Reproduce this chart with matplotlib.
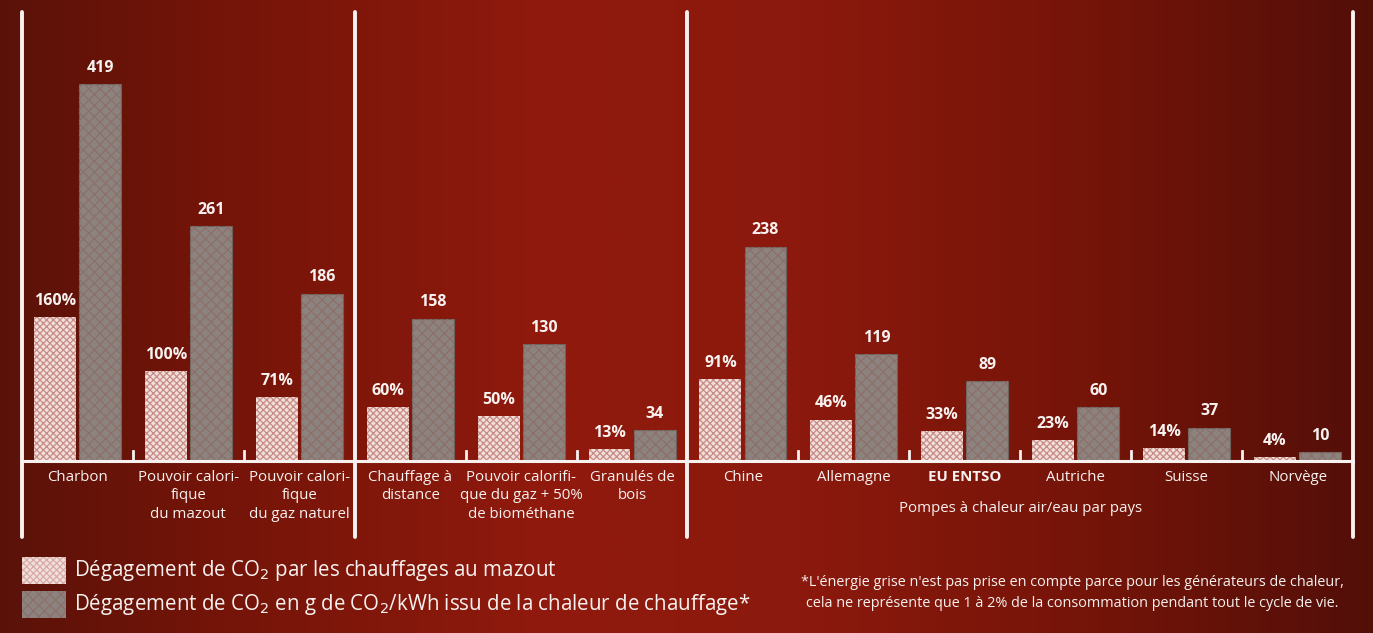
import numpy as np
import matplotlib
matplotlib.use("Agg")
import matplotlib.pyplot as plt
from matplotlib.patches import Rectangle

# ---------------- data ----------------
categories = ["Charbon",
              "Pouvoir calori-\nfique\ndu mazout",
              "Pouvoir calori-\nfique\ndu gaz naturel",
              "Chauffage à\ndistance",
              "Pouvoir calorifi-\nque du gaz + 50%\nde biométhane",
              "Granulés de\nbois",
              "Chine", "Allemagne", "EU ENTSO", "Autriche", "Suisse", "Norvège"]
share_pct = [160, 100, 71, 60, 50, 13, 91, 46, 33, 23, 14, 4]
co2_g_kwh = [419, 261, 186, 158, 130, 34, 238, 119, 89, 60, 37, 10]
group_bounds = [-0.5, 2.5, 5.5, 11.5]
group3_title = "Pompes à chaleur air/eau par pays"
legend_labels = ["Dégagement de CO$_2$ par les chauffages au mazout",
                 "Dégagement de CO$_2$ en g de CO$_2$/kWh issu de la chaleur de chauffage*"]
footnote = ("*L'énergie grise n'est pas prise en compte parce pour les générateurs de chaleur,\n"
            "cela ne représente que 1 à 2% de la consommation pendant tout le cycle de vie.")

plt.rcParams['font.family'] = ['Open Sans', 'DejaVu Sans']
plt.rcParams['hatch.linewidth'] = 0.9

W, H = 1373, 633
fig = plt.figure(figsize=(W / 100, H / 100), dpi=100)
ax = fig.add_axes([0, 0, 1, 1])
XMIN, XMAX = -0.698, 11.68
YMIN, YMAX = -191.1, 512.2
ax.set_xlim(XMIN, XMAX)
ax.set_ylim(YMIN, YMAX)
ax.axis('off')

def X(px):
    return XMIN + px * (XMAX - XMIN) / W

def Y(py):
    return YMAX - py * (YMAX - YMIN) / H

# background gradient
xs = np.linspace(0, W, 600)
stops_x = [0, 200, 550, 800, 1100, 1373]
stops_c = np.array([[0x5a, 0x12, 0x08], [0x73, 0x14, 0x09], [0x90, 0x1a, 0x0d],
                    [0x8c, 0x19, 0x0d], [0x74, 0x14, 0x09], [0x52, 0x0f, 0x08]]) / 255
grad = np.stack([np.interp(xs, stops_x, stops_c[:, k]) for k in range(3)], axis=-1)
grad = np.repeat(grad[None, :, :], 2, axis=0)
ax.imshow(grad, extent=[XMIN, XMAX, YMIN, YMAX], aspect='auto', zorder=0)

WHITE = '#f7f2f0'
x = np.arange(len(categories))
w = 0.378
off = 0.203

# pink bars
ax.bar(x - off, share_pct, w, color='#f0e0dc', lw=0, zorder=2)
ax.bar(x - off, share_pct, w, facecolor='none', edgecolor='#c98a85', hatch='xxxxx', lw=0, zorder=3)
# gray bars
ax.bar(x + off, co2_g_kwh, w, color='#8c837f', edgecolor='#6e605a', lw=0.8, zorder=2)
ax.bar(x + off, co2_g_kwh, w, facecolor='none', edgecolor='#8d6f6a', hatch='xxx', lw=0, zorder=3)

for xi, v in zip(x, share_pct):
    ax.annotate(f"{v}%", (xi - off, v), xytext=(0, 6), textcoords='offset points',
                ha='center', va='bottom', color=WHITE, fontsize=11.5, fontweight='bold', zorder=5)
for xi, v in zip(x, co2_g_kwh):
    ax.annotate(f"{v}", (xi + off, v), xytext=(0, 6), textcoords='offset points',
                ha='center', va='bottom', color=WHITE, fontsize=11.5, fontweight='bold', zorder=5)

# separators and baseline
for b in group_bounds:
    ax.plot([b, b], [Y(12), Y(537)], color=WHITE, lw=2.8, solid_capstyle='round', zorder=4)
ax.plot([group_bounds[0], group_bounds[-1]], [0, 0], color=WHITE, lw=2.2, zorder=4)
for i in range(len(categories) - 1):
    t = i + 0.5
    if t in group_bounds:
        continue
    ax.plot([t, t], [0, 11], color=WHITE, lw=2, zorder=4)

# category labels
for i, lab in enumerate(categories):
    ax.text(i, Y(470), lab, ha='center', va='top', fontsize=10.8, linespacing=1.3,
            color=WHITE, fontweight='bold' if lab == "EU ENTSO" else 'normal', zorder=5)
ax.text((group_bounds[2] + group_bounds[3]) / 2, Y(508), group3_title, ha='center', va='center',
        fontsize=10.8, color=WHITE, zorder=5)

# legend
sw_colors = ['#f0e0dc', '#8c837f']
sw_hatch = ['xxxxx', 'xxx']
sw_hcol = ['#d9aaa6', '#8d6f6a']
sw_y = [(557, 584), (591, 618)]
for (t, b), c, h, hc, lab in zip(sw_y, sw_colors, sw_hatch, sw_hcol, legend_labels):
    ax.add_patch(Rectangle((X(22), Y(b)), X(66) - X(22), Y(t) - Y(b), facecolor=c, lw=0, zorder=3))
    ax.add_patch(Rectangle((X(22), Y(b)), X(66) - X(22), Y(t) - Y(b), facecolor='none',
                           edgecolor=hc, hatch=h, lw=0, zorder=3))
    ax.text(X(74), Y((t + b) / 2), lab, ha='left', va='center', fontsize=14.8, color=WHITE, zorder=5)

ax.text(X(1072), Y(593), footnote, ha='center', va='center', fontsize=10.4,
        linespacing=1.5, color=WHITE, zorder=5)

fig.savefig("out.png", dpi=100)
